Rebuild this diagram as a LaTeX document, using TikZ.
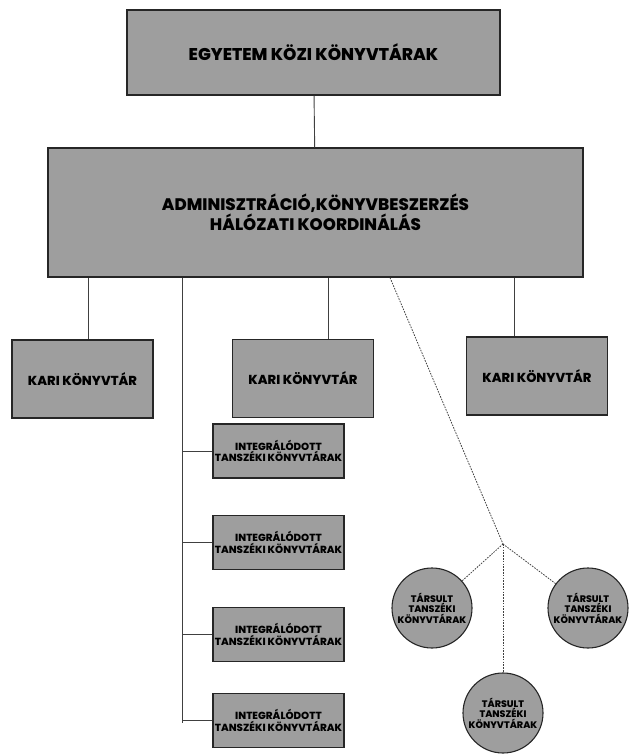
\documentclass[tikz,border=0pt]{standalone}
\usepackage{fontspec}
\setmainfont{Poppins}[BoldFont={Poppins ExtraBold}]
\usetikzlibrary{arrows.meta,backgrounds}

\begin{document}
\begin{tikzpicture}[
    x=1pt, y=-1pt,
    box/.style={rectangle, draw=black!85, line width=1.3pt, fill=black!38, inner sep=0pt, font=\bfseries},
    big box/.style={box, font=\fontsize{17}{17}\selectfont\bfseries},
    kari box/.style={box, minimum width=141pt, minimum height=78pt, font=\fontsize{13}{12}\selectfont\bfseries},
    int box/.style={box, minimum width=131pt, minimum height=54pt, align=center, font=\fontsize{10.3}{9.5}\selectfont\bfseries},
    assoc node/.style={circle, draw=black!85, line width=1.1pt, fill=black!38, minimum size=80pt, inner sep=0pt, align=center, font=\fontsize{9.5}{8.5}\selectfont\bfseries},
    connection/.style={-, line width=0.9pt, black!75},
    dotted connection/.style={connection, line width=0.8pt, dash pattern=on 1.6pt off 1.2pt}
]
\useasboundingbox (0,0) rectangle (631,754);

% Top level
\node[big box, minimum width=373pt, minimum height=85pt] (univ) at (313.5,52.5) {EGYETEM KÖZI KÖNYVTÁRAK};

% Coordination
\node[big box, minimum width=535pt, minimum height=129pt, align=center,
      font=\fontsize{16.7}{15}\selectfont\bfseries] (admin) at (315.5,212.5)
      {ADMINISZTRÁCIÓ,KÖNYVBESZERZÉS\\HÁLÓZATI KOORDINÁLÁS};
\draw[connection] (univ) -- (admin);

% Faculty libraries
\node[kari box] (kari1) at (82.5,379) {KARI KÖNYVTÁR};
\node[kari box] (kari2) at (303,378.5) {KARI KÖNYVTÁR};
\node[kari box] (kari3) at (537,376) {KARI KÖNYVTÁR};
\draw[connection] (admin.south -| 88,0) -- (kari1.north -| 88,0);
\draw[connection] (admin.south -| 328,0) -- (kari2.north -| 328,0);
\draw[connection] (admin.south -| 514,0) -- (kari3.north -| 514,0);

% Integrated departmental libraries
\coordinate (spine) at (182,723);
\node[int box] (int1) at (278.5,451) {INTEGRÁLÓDOTT\\TANSZÉKI KÖNYVTÁRAK};
\node[int box] (int2) at (278.5,542.5) {INTEGRÁLÓDOTT\\TANSZÉKI KÖNYVTÁRAK};
\node[int box] (int3) at (278.5,634.5) {INTEGRÁLÓDOTT\\TANSZÉKI KÖNYVTÁRAK};
\node[int box] (int4) at (278.5,720.5) {INTEGRÁLÓDOTT\\TANSZÉKI KÖNYVTÁRAK};
\draw[connection] (admin.south -| spine) -- (spine);
\foreach \i in {1,...,4}
    \draw[connection] (int\i.west -| spine) -- (int\i.west);

% Associated departmental libraries
\coordinate (fork) at (503,544);
\node[assoc node] (assoc1) at (432,608) {TÁRSULT\\TANSZÉKI\\KÖNYVTÁRAK};
\node[assoc node] (assoc2) at (588,608) {TÁRSULT\\TANSZÉKI\\KÖNYVTÁRAK};
\node[assoc node] (assoc3) at (503,713) {TÁRSULT\\TANSZÉKI\\KÖNYVTÁRAK};
\draw[dotted connection] (admin.south -| 390,0) -- (fork);
\foreach \i in {1,2,3}
    \draw[dotted connection] (fork) -- (assoc\i);

\end{tikzpicture}
\end{document}
